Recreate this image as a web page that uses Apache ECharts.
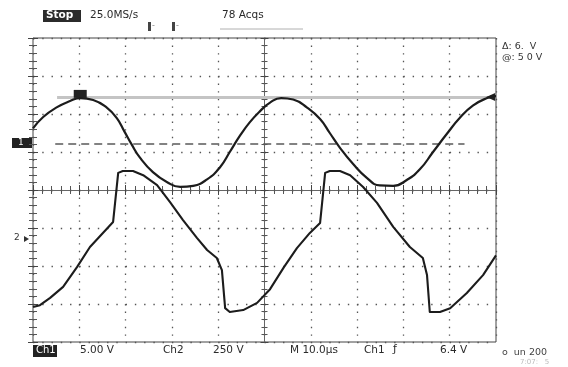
<!DOCTYPE html>
<html>
<head>
<meta charset="utf-8">
<script src="https://cdn.jsdelivr.net/npm/echarts@6/dist/echarts.min.js"></script>
<style>
html,body{margin:0;padding:0;background:#fff;}
#c{width:568px;height:367px;}
</style>
</head>
<body>
<div id="c"></div>
<script>
// Time axis in divisions (10 div across), amplitude in divisions (8 div high)
const ch1X = [0, 0.22, 0.52, 0.80, 1.02, 1.30, 1.60, 1.81, 1.97, 2.13, 2.31, 2.59, 2.89, 3.18, 3.46, 3.76, 4.04, 4.25, 4.47, 4.68, 4.90, 5.12, 5.36, 5.62, 5.92, 6.20, 6.41, 6.63, 6.91, 7.21, 7.49, 7.78, 8.08, 8.36, 8.64, 8.94, 9.22, 9.50, 9.81, 10];
const ch1Y = [1.62, 1.92, 2.18, 2.34, 2.42, 2.37, 2.16, 1.89, 1.55, 1.20, 0.85, 0.47, 0.21, 0.08, 0.11, 0.28, 0.60, 1.00, 1.43, 1.78, 2.07, 2.30, 2.42, 2.38, 2.17, 1.87, 1.50, 1.11, 0.69, 0.32, 0.12, 0.11, 0.27, 0.55, 1.00, 1.48, 1.90, 2.22, 2.42, 2.47];
const ch2X = [0, 0.15, 0.37, 0.65, 0.95, 1.23, 1.51, 1.73, 1.77, 1.84, 1.94, 2.16, 2.38, 2.68, 2.96, 3.24, 3.54, 3.76, 3.97, 4.08, 4.15, 4.25, 4.54, 4.84, 5.12, 5.42, 5.70, 5.98, 6.20, 6.24, 6.31, 6.41, 6.63, 6.85, 7.13, 7.43, 7.78, 8.14, 8.42, 8.51, 8.57, 8.79, 9.01, 9.37, 9.72, 10];
const ch2Y = [-3.08, -3.03, -2.84, -2.55, -2.03, -1.50, -1.13, -0.84, -0.79, 0.45, 0.50, 0.50, 0.39, 0.13, -0.32, -0.79, -1.26, -1.58, -1.79, -2.11, -3.11, -3.21, -3.16, -2.97, -2.61, -2.03, -1.53, -1.13, -0.87, -0.82, 0.45, 0.50, 0.50, 0.39, 0.08, -0.34, -0.97, -1.50, -1.79, -2.24, -3.21, -3.21, -3.11, -2.71, -2.24, -1.72];
const cursorLevel = [2.45];
const cursorSpan = [0.52, 9.95];
const refLevel = [1.23];
const refSpan = [0.48, 9.32];
const xRange = [0, 10];
const yRange = [-4, 4];

const ch1 = ch1X.map((x, i) => [x, ch1Y[i]]);
const ch2 = ch2X.map((x, i) => [x, ch2Y[i]]);

const chart = echarts.init(document.getElementById('c'), null, {renderer: 'canvas'});
const G = {left: 33, top: 38, width: 463, height: 304};
const font = '"DejaVu Sans", sans-serif';
const txt = (x, y, s, size, color, extra) => Object.assign({
  type: 'text', left: x, top: y, silent: true,
  style: {text: s, fill: color || '#2a2a2a', font: (size || 10) + 'px ' + font}
}, extra || {});

const frameTick = {show: true, inside: true, length: 5, lineStyle: {color: '#444'}};
const frameMinor = {show: true, splitNumber: 5, length: 4, lineStyle: {color: '#555'}};

const option = {
  backgroundColor: '#ffffff',
  animation: false,
  grid: [
    Object.assign({show: true, borderColor: '#444', borderWidth: 1, backgroundColor: 'transparent'}, G),
    Object.assign({show: false}, G),
    Object.assign({show: false}, G)
  ],
  xAxis: [
    {gridIndex: 0, type: 'value', min: xRange[0], max: xRange[1], interval: 1, position: 'bottom',
     axisLine: {show: false}, axisLabel: {show: false}, axisTick: frameTick, minorTick: frameMinor,
     splitLine: {show: true, lineStyle: {color: '#555', width: 1.3, type: [1.4, 6.2]}}},
    {gridIndex: 0, type: 'value', min: xRange[0], max: xRange[1], interval: 1, position: 'top',
     axisLine: {show: false}, axisLabel: {show: false}, axisTick: frameTick, minorTick: frameMinor,
     splitLine: {show: false}},
    {gridIndex: 1, type: 'value', min: -5, max: 5, interval: 1,
     axisLine: {show: true, onZero: true, lineStyle: {color: '#666', width: 1}}, axisLabel: {show: false},
     axisTick: {show: true, inside: true, length: 4, lineStyle: {color: '#444'}},
     minorTick: {show: true, splitNumber: 5, length: 3, lineStyle: {color: '#555'}}, splitLine: {show: false}},
    {gridIndex: 2, type: 'value', min: -5, max: 5, interval: 1,
     axisLine: {show: false, onZero: true}, axisLabel: {show: false},
     axisTick: {show: true, inside: false, length: 4, lineStyle: {color: '#444'}},
     minorTick: {show: true, splitNumber: 5, length: 3, lineStyle: {color: '#555'}}, splitLine: {show: false}}
  ],
  yAxis: [
    {gridIndex: 0, type: 'value', min: yRange[0], max: yRange[1], interval: 1, position: 'left',
     axisLine: {show: false}, axisLabel: {show: false}, axisTick: frameTick, minorTick: frameMinor,
     splitLine: {show: true, lineStyle: {color: '#555', width: 1.3, type: [1.4, 7.86]}}},
    {gridIndex: 0, type: 'value', min: yRange[0], max: yRange[1], interval: 1, position: 'right',
     axisLine: {show: false}, axisLabel: {show: false}, axisTick: frameTick, minorTick: frameMinor,
     splitLine: {show: false}},
    {gridIndex: 1, type: 'value', min: yRange[0], max: yRange[1], interval: 1,
     axisLine: {show: true, onZero: true, lineStyle: {color: '#666', width: 1}}, axisLabel: {show: false},
     axisTick: {show: true, inside: true, length: 4, lineStyle: {color: '#444'}},
     minorTick: {show: true, splitNumber: 5, length: 3, lineStyle: {color: '#555'}}, splitLine: {show: false}},
    {gridIndex: 2, type: 'value', min: yRange[0], max: yRange[1], interval: 1,
     axisLine: {show: false, onZero: true}, axisLabel: {show: false},
     axisTick: {show: true, inside: false, length: 4, lineStyle: {color: '#444'}},
     minorTick: {show: true, splitNumber: 5, length: 3, lineStyle: {color: '#555'}}, splitLine: {show: false}}
  ],
  series: [
    {
      name: 'ref', type: 'line', xAxisIndex: 0, yAxisIndex: 0, data: [], silent: true,
      markLine: {
        silent: true, symbol: ['none', 'none'], label: {show: false},
        data: [
          [{coord: [cursorSpan[0], cursorLevel[0]], lineStyle: {color: '#c4c4c4', width: 3, type: 'solid'}},
           {coord: [cursorSpan[1], cursorLevel[0]]}],
          [{coord: [refSpan[0], refLevel[0]], lineStyle: {color: '#5a5a5a', width: 1.6, type: [8, 5]}},
           {coord: [refSpan[1], refLevel[0]]}]
        ]
      },
      markPoint: {
        silent: true, label: {show: false},
        data: [
          {coord: [1.02, cursorLevel[0]], symbol: 'rect', symbolSize: [13, 8], symbolOffset: [0, -3], itemStyle: {color: '#222'}},
          {coord: [cursorSpan[1], cursorLevel[0]], symbol: 'triangle', symbolRotate: 90, symbolSize: [8, 9], symbolOffset: [-3, 0], itemStyle: {color: '#222'}}
        ]
      }
    },
    {
      name: 'Ch1', type: 'line', xAxisIndex: 0, yAxisIndex: 0, data: ch1, showSymbol: false,
      smooth: 0.5, lineStyle: {color: '#1c1c1c', width: 2.2}, z: 5
    },
    {
      name: 'Ch2', type: 'line', xAxisIndex: 0, yAxisIndex: 0, data: ch2, showSymbol: false,
      smooth: false, lineStyle: {color: '#1c1c1c', width: 2.1, join: 'round'}, z: 5
    }
  ],
  graphic: [
    {type: 'rect', left: 43, top: 10, shape: {width: 38, height: 12}, style: {fill: '#2b2b2b'}, silent: true},
    txt(46, 10, 'Stop', 10.5, '#ffffff', {style: {text: 'Stop', fill: '#fff', font: 'bold 10.5px ' + font}}),
    txt(90, 10, '25.0MS/s', 10.5),
    txt(222, 10, '78 Acqs', 10.5),
    {type: 'rect', left: 148, top: 22, shape: {width: 3, height: 9}, style: {fill: '#444'}, silent: true},
    txt(152, 22, '-', 8, '#888'),
    {type: 'rect', left: 172, top: 22, shape: {width: 3, height: 9}, style: {fill: '#444'}, silent: true},
    txt(176, 22, '-', 8, '#888'),
    {type: 'line', shape: {x1: 220, y1: 29, x2: 303, y2: 29}, style: {stroke: '#b0b0b0', lineWidth: 1}, silent: true},
    // channel markers on the left
    {type: 'rect', left: 12, top: 138, shape: {width: 20, height: 10}, style: {fill: '#222'}, silent: true},
    txt(18, 138, '1', 9, '#fff'),
    txt(14, 233, '2', 9, '#333'),
    {type: 'polygon', shape: {points: [[24, 236], [24, 242], [29, 239]]}, style: {fill: '#333'}, silent: true},
    // right readout
    txt(502, 42, 'Δ: 6.  V', 9.5, '#333'),
    txt(502, 53, '@: 5 0 V', 9.5, '#333'),
    // bottom status line
    {type: 'rect', left: 33, top: 345, shape: {width: 24, height: 12}, style: {fill: '#222'}, silent: true},
    txt(36, 345, 'Ch1', 10, '#fff'),
    txt(80, 345, '5.00 V', 10.5),
    txt(163, 345, 'Ch2', 10.5),
    txt(213, 345, '250 V', 10.5),
    txt(290, 345, 'M 10.0µs', 10.5),
    txt(364, 345, 'Ch1', 10.5),
    txt(393, 344, 'ƒ', 11),
    txt(440, 345, '6.4 V', 10.5),
    txt(502, 348, 'o  un 200', 9.5, '#444'),
    txt(520, 359, '7:07:   5', 7, '#bbb')
  ]
};
chart.setOption(option);
</script>
</body>
</html>
